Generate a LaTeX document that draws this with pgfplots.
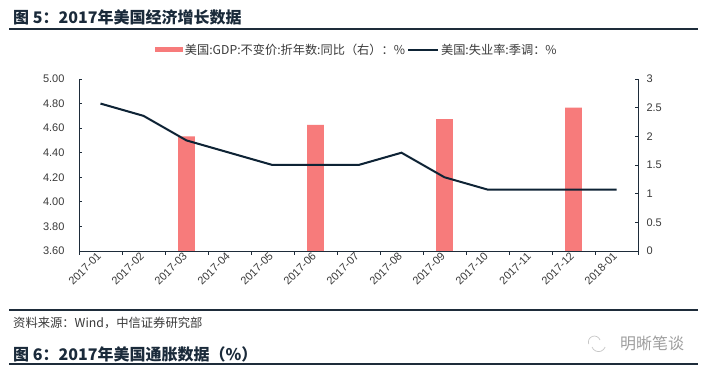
\documentclass[border=0pt]{standalone}
\usepackage{fontspec}
\setmainfont{Noto Sans CJK SC}
\newfontfamily\arialf{Liberation Sans}
\usepackage{pgfplots}
\pgfplotsset{compat=1.18}
\definecolor{navy}{HTML}{0E2335}
\definecolor{barred}{HTML}{F77B7B}
\definecolor{axisc}{HTML}{1E2C3A}
\definecolor{txt}{HTML}{3A3A3A}
\definecolor{ttl}{HTML}{1A2A3A}
\begin{document}
\begin{tikzpicture}
\path[use as bounding box, fill=white] (0pt,0pt) rectangle (712pt,377pt);
% header
\node[anchor=west, inner sep=0pt, font=\fontsize{16}{16}\selectfont\bfseries, text=ttl] at (13pt,360pt) {图 5：2017年美国经济增长数据};
\draw[axisc, line width=2.5pt] (9pt,348pt) -- (698pt,348pt);
% bar axis (right)
\begin{axis}[
  at={(79pt,126pt)}, anchor=south west, scale only axis,
  width=559pt, height=172pt,
  xmin=-0.5, xmax=12.5, ymin=0, ymax=3,
  axis x line=none, axis y line*=right,
  ytick={0,0.5,1,1.5,2,2.5,3}, yticklabels={0,0.5,1,1.5,2,2.5,3},
  tick align=inside, major tick length=3pt,
  axis line style={axisc, line width=0.8pt, -},
  ytick style={axisc, line width=0.8pt},
  /pgf/number format/assume math mode=true,
  yticklabel style={font=\arialf\fontsize{11}{11}\selectfont, text=txt, anchor=west, xshift=5pt},
  legend style={at={(0.497,1.169)}, anchor=center, draw=none, fill=none,
    font=\fontsize{12.2}{12}\selectfont, text=txt, inner sep=0pt},
  legend columns=2,
  clip=false
]
\addplot[ybar, bar width=16.7pt, fill=barred, draw=none,
  legend image code/.code={\fill[barred] (0pt,-2.5pt) rectangle (28pt,2.5pt);}]
  coordinates {(2,2.0) (5,2.2) (8,2.3) (11,2.5)};
\addlegendentry{美国:GDP:不变价:折年数:同比（右）：\%\hspace{28pt}}
\addlegendimage{navy, line width=2pt, legend image code/.code={\draw[navy, line width=2pt] (0pt,0pt) -- (30pt,0pt);}}
\addlegendentry{美国:失业率:季调：\%}
\end{axis}
% line axis (left)
\begin{axis}[
  at={(79pt,126pt)}, anchor=south west, scale only axis,
  width=559pt, height=172pt,
  xmin=-0.5, xmax=12.5, ymin=3.6, ymax=5.0,
  axis x line*=bottom, axis y line*=left,
  ytick={3.6,3.8,4.0,4.2,4.4,4.6,4.8,5.0},
  yticklabels={3.60,3.80,4.00,4.20,4.40,4.60,4.80,5.00},
  xtick={0,1,2,3,4,5,6,7,8,9,10,11,12},
  xticklabels={2017-01,2017-02,2017-03,2017-04,2017-05,2017-06,2017-07,2017-08,2017-09,2017-10,2017-11,2017-12,2018-01},
  minor xtick={-0.5,0.5,1.5,2.5,3.5,4.5,5.5,6.5,7.5,8.5,9.5,10.5,11.5,12.5},
  major x tick style={draw=none},
  minor x tick style={yshift=-4pt, axisc, line width=0.8pt},
  ytick style={axisc, line width=0.8pt},
  tick align=inside, major tick length=3pt, minor tick length=4pt,
  axis line style={axisc, line width=0.8pt, -},
  /pgf/number format/assume math mode=true,
  yticklabel style={font=\arialf\fontsize{11}{11}\selectfont, text=txt, xshift=-11pt},
  xticklabel style={font=\arialf\fontsize{11}{11}\selectfont, text=txt, rotate=45, anchor=east, yshift=-1.5pt},
  clip=false
]
\addplot[navy, line width=2pt, mark=none] coordinates {
  (0,4.8) (1,4.7) (2,4.5) (3,4.4) (4,4.3) (5,4.3) (6,4.3)
  (7,4.4) (8,4.2) (9,4.1) (10,4.1) (11,4.1) (12,4.1)};
\end{axis}
% footer
\draw[axisc, line width=2.5pt] (9pt,67pt) -- (698pt,67pt);
\node[anchor=west, inner sep=0pt, font=\fontsize{12.3}{12}\selectfont, text=txt] at (13pt,54pt) {资料来源：Wind，中信证券研究部};
\node[anchor=west, inner sep=0pt, font=\fontsize{16}{16}\selectfont\bfseries, text=ttl] at (13pt,23pt) {图 6：2017年美国通胀数据（\%）};
\draw[gray!45, line width=0.7pt] (600pt,37pt) arc (20:200:6pt);
\draw[gray!45, line width=0.7pt] (592pt,30pt) arc (200:340:7pt);
\node[anchor=west, inner sep=0pt, font=\fontsize{16}{16}\selectfont, text=gray!75] at (620pt,34pt) {明晰笔谈};
\draw[axisc, line width=2.5pt] (9pt,13pt) -- (698pt,13pt);
\end{tikzpicture}
\end{document}
